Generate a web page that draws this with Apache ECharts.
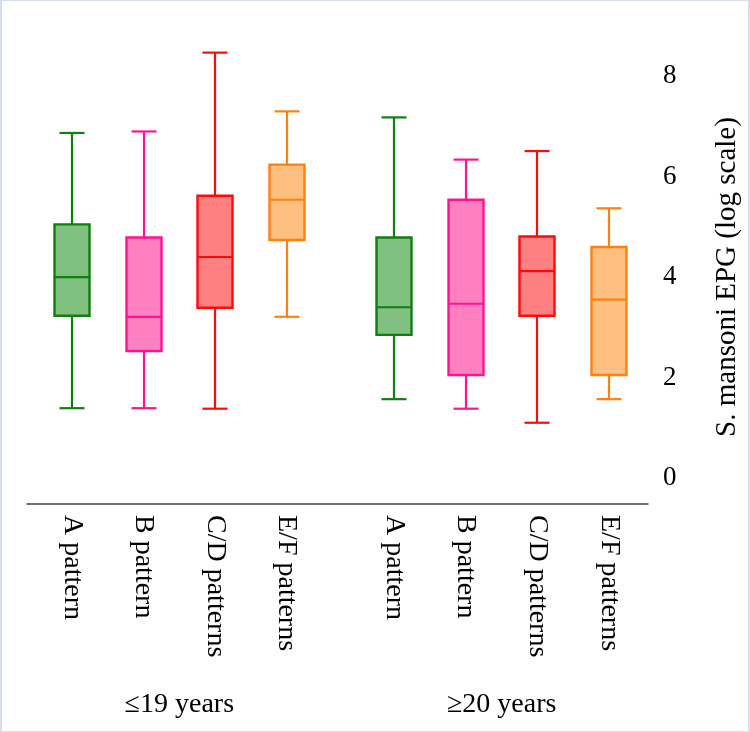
<!DOCTYPE html>
<html>
<head>
<meta charset="utf-8">
<script src="https://cdn.jsdelivr.net/npm/echarts@6/dist/echarts.min.js"></script>
<style>
  html, body { margin: 0; padding: 0; background: #fff; }
  #chart { position: absolute; left: 0; top: 0; width: 750px; height: 732px; }
  #frame { position: absolute; left: 0; top: 0; width: 750px; height: 732px; box-sizing: border-box;
           border: 1px solid #d6e0ec; border-left-width: 2px; border-right-width: 2px; pointer-events: none; }
</style>
</head>
<body>
<div id="chart"></div>
<div id="frame"></div>
<script>
// ---- data ----
const categories = ['A pattern', 'B pattern', 'C/D patterns', 'E/F patterns',
                    'A pattern', 'B pattern', 'C/D patterns', 'E/F patterns'];
const groupLabels = ['\u226419 years', '\u226520 years'];
const groupOfCategory = [0, 0, 0, 0, 1, 1, 1, 1];
const whiskerLow  = [1.39, 1.39, 1.38, 3.21, 1.57, 1.38, 1.10, 1.57];
const q1          = [3.23, 2.53, 3.39, 4.74, 2.85, 2.05, 3.23, 2.05];
const median      = [4.00, 3.21, 4.40, 5.54, 3.40, 3.47, 4.12, 3.55];
const q3          = [5.05, 4.79, 5.62, 6.24, 4.79, 5.54, 4.81, 4.60];
const whiskerHigh = [6.87, 6.90, 8.47, 7.30, 7.18, 6.34, 6.51, 5.37];
const yTicks = [0, 2, 4, 6, 8];
const yTitle = 'S. mansoni EPG (log scale)';

// ---- styles ----
const strokeColors = ['#0f7f0f', '#ff1490', '#ff0a0a', '#ff800f'];
const fillColors   = ['#80c080', '#ff80c0', '#ff8080', '#ffbf80'];
const FONT = "'Liberation Serif', 'Times New Roman', serif";

// slot layout: each category in a half-width slot, with a gap between groups
const SLOTS = 16;
const slotOf = categories.map((c, i) => 2 * i + groupOfCategory[i]);
const slotLabels = new Array(SLOTS).fill('');
categories.forEach((c, i) => { slotLabels[slotOf[i]] = c; });
const groupSlotLabels = new Array(SLOTS).fill('');
groupLabels.forEach((g, gi) => {
  const idx = categories.map((c, i) => i).filter(i => groupOfCategory[i] === gi);
  const mid = Math.round((slotOf[idx[0]] + slotOf[idx[idx.length - 1]]) / 2);
  groupSlotLabels[mid] = g;
});

const seriesData = categories.map((c, i) => [
  slotOf[i], whiskerLow[i], q1[i], median[i], q3[i], whiskerHigh[i], i % 4
]);

const chart = echarts.init(document.getElementById('chart'), null, { renderer: 'canvas' });

function renderItem(params, api) {
  const x = api.value(0);
  const ci = api.value(6);
  const stroke = strokeColors[ci];
  const fill = fillColors[ci];
  const pLow = api.coord([x, api.value(1)]);
  const pQ1 = api.coord([x, api.value(2)]);
  const pMed = api.coord([x, api.value(3)]);
  const pQ3 = api.coord([x, api.value(4)]);
  const pHigh = api.coord([x, api.value(5)]);
  const cx = Math.round(pQ1[0]);
  const boxW = 35, capW = 25;
  const ls = { stroke: stroke, lineWidth: 2.2 };
  return {
    type: 'group',
    children: [
      { type: 'line', shape: { x1: cx, y1: pHigh[1], x2: cx, y2: pQ3[1] }, style: ls },
      { type: 'line', shape: { x1: cx, y1: pQ1[1], x2: cx, y2: pLow[1] }, style: ls },
      { type: 'line', shape: { x1: cx - capW / 2, y1: pHigh[1], x2: cx + capW / 2, y2: pHigh[1] }, style: ls },
      { type: 'line', shape: { x1: cx - capW / 2, y1: pLow[1], x2: cx + capW / 2, y2: pLow[1] }, style: ls },
      { type: 'rect', shape: { x: cx - boxW / 2, y: pQ3[1], width: boxW, height: pQ1[1] - pQ3[1] },
        style: { fill: fill, stroke: stroke, lineWidth: 2.4 } },
      { type: 'line', shape: { x1: cx - boxW / 2, y1: pMed[1], x2: cx + boxW / 2, y2: pMed[1] }, style: ls }
    ]
  };
}

const option = {
  animation: false,
  backgroundColor: '#ffffff',
  grid: [
    { left: 54, right: 123, top: 26, bottom: 254 },
    { left: 27, right: 97, top: 76, bottom: 254 }
  ],
  xAxis: [
    {
      gridIndex: 0, type: 'category', data: slotLabels, position: 'bottom', offset: 26,
      boundaryGap: true,
      axisLine: { show: false, onZero: false }, axisTick: { show: false }, splitLine: { show: false },
      axisLabel: { interval: 0, rotate: -90, margin: 11, fontSize: 28, fontFamily: FONT, color: '#000' }
    },
    {
      gridIndex: 0, type: 'category', data: groupSlotLabels, position: 'bottom', offset: 26,
      boundaryGap: true,
      axisLine: { show: false, onZero: false }, axisTick: { show: false }, splitLine: { show: false },
      axisLabel: { interval: 0, margin: 187, fontSize: 28, fontFamily: FONT, color: '#000' }
    },
    {
      gridIndex: 1, type: 'value', min: 0, max: 1, position: 'bottom', offset: 26,
      axisLine: { show: true, onZero: false, lineStyle: { color: '#404040', width: 1.5 } },
      axisTick: { show: false }, axisLabel: { show: false }, splitLine: { show: false }
    }
  ],
  yAxis: [
    {
      gridIndex: 0, type: 'value', position: 'right', min: 0, max: 9, interval: 2,
      axisLine: { show: false }, axisTick: { show: false }, splitLine: { show: false },
      axisLabel: {
        showMaxLabel: false, margin: 36, fontSize: 27, fontFamily: FONT, color: '#000',
        formatter: v => (yTicks.indexOf(v) >= 0 ? String(v) : '')
      }
    },
    {
      gridIndex: 1, type: 'value', position: 'right', min: 0, max: 1,
      axisLine: { show: false }, axisTick: { show: false }, splitLine: { show: false },
      axisLabel: { show: false },
      name: yTitle, nameLocation: 'middle', nameRotate: 90, nameGap: 65,
      nameTextStyle: { fontSize: 29, fontFamily: FONT, color: '#000' }
    }
  ],
  series: [
    {
      type: 'custom',
      xAxisIndex: 0, yAxisIndex: 0,
      renderItem: renderItem,
      encode: { x: 0, y: [1, 2, 3, 4, 5] },
      data: seriesData,
      clip: false
    }
  ]
};
chart.setOption(option);
</script>
</body>
</html>
